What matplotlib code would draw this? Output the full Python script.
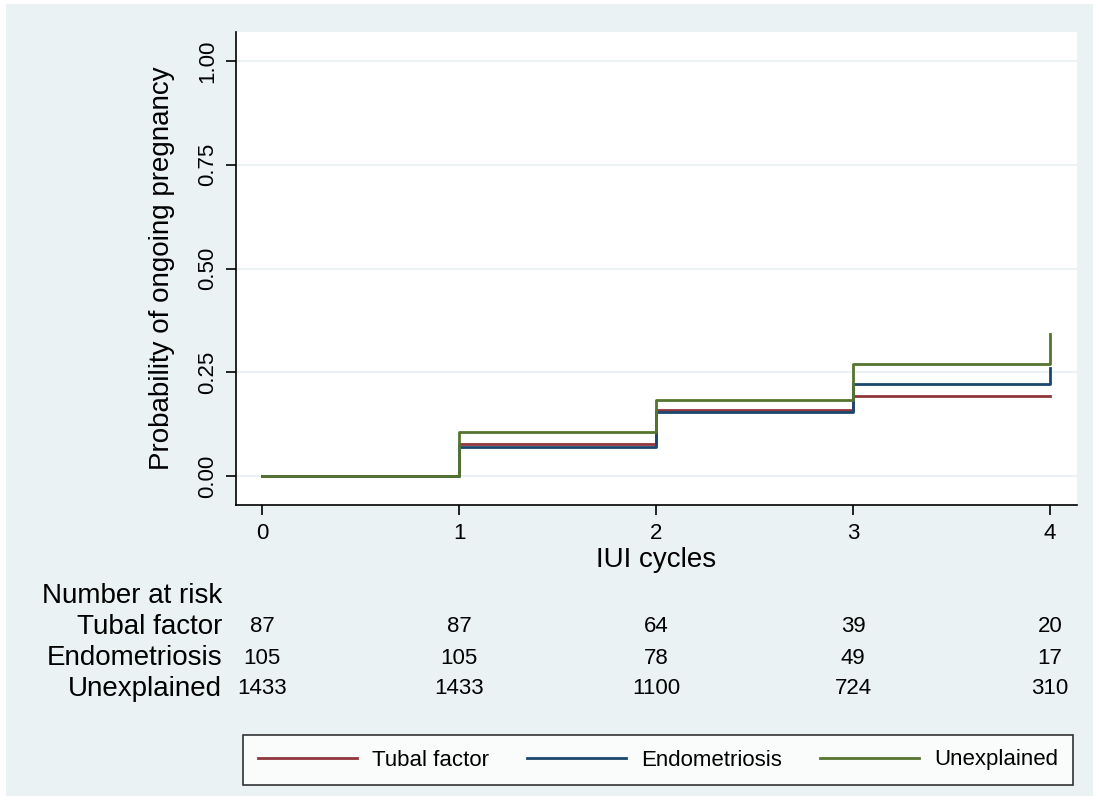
import numpy as np
import matplotlib.pyplot as plt
from matplotlib.patches import Rectangle
from matplotlib.transforms import blended_transform_factory

plt.rcParams['font.family'] = ['Liberation Sans', 'DejaVu Sans']

cycles = [0, 1, 2, 3, 4]
tubal = [0, 0.077, 0.159, 0.193, 0.193]
endo = [0, 0.070, 0.155, 0.222, 0.260]
unexpl = [0, 0.107, 0.182, 0.270, 0.342]

groups = ['Tubal factor', 'Endometriosis', 'Unexplained']
at_risk = {
    'Tubal factor': [87, 87, 64, 39, 20],
    'Endometriosis': [105, 105, 78, 49, 17],
    'Unexplained': [1433, 1433, 1100, 724, 310],
}
colors = ['#90353B', '#1A476F', '#55752F']
bg = '#EAF2F3'

fig = plt.figure(figsize=(10.99, 8.02), dpi=100)
fig.patch.set_facecolor('white')
fig.patches.append(Rectangle((6/1099, 6/802), 1087/1099, 792/802,
                             transform=fig.transFigure, facecolor=bg,
                             edgecolor='none', zorder=-10))

ax = fig.add_axes([236/1099, 1 - 505/802, 841/1099, 473/802])
ax.set_facecolor('white')

for vals, c, name in zip([tubal, endo, unexpl], colors, groups):
    ax.step(cycles, vals, where='post', color=c, lw=2, label=name)

ax.set_xlim(-0.132, 4.137)
ax.set_ylim(-0.07, 1.07)
ax.set_xticks(cycles)
ax.set_yticks([0, 0.25, 0.5, 0.75, 1.0])
ax.set_yticklabels(['0.00', '0.25', '0.50', '0.75', '1.00'], rotation=90, va='center')
ax.tick_params(labelsize=16, length=7, width=1.2, color='black', pad=6)
ax.grid(axis='y', color=bg, lw=1.5)
ax.set_axisbelow(True)
for s in ['top', 'right']:
    ax.spines[s].set_visible(False)
for s in ['left', 'bottom']:
    ax.spines[s].set_linewidth(1.2)

ax.set_xlabel('IUI cycles', fontsize=20, labelpad=2)
ax.set_ylabel('Probability of ongoing pregnancy', fontsize=20, labelpad=16)

# number at risk table
tr = blended_transform_factory(ax.transData, fig.transFigure)
fig.text(222/1099, 1 - 596/802, 'Number at risk', fontsize=20, ha='right', va='center')
row_y = [627, 658, 689]
for name, yy in zip(groups, row_y):
    fig.text(222/1099, 1 - yy/802, name, fontsize=20, ha='right', va='center')
    for xv, n in zip(cycles, at_risk[name]):
        ax.text(xv, 1 - yy/802, str(n), transform=tr, fontsize=16,
                ha='center', va='center', clip_on=False)

leg = fig.legend(loc='center', ncol=3,
                 bbox_to_anchor=(658/1099, 1 - 760/802),
                 fontsize=16, handlelength=4.45, handletextpad=0.7,
                 columnspacing=1.7, borderpad=0.65, borderaxespad=0,
                 frameon=True, fancybox=False, edgecolor='black')
leg.get_frame().set_linewidth(1.2)

fig.savefig('out.png', dpi=100)
